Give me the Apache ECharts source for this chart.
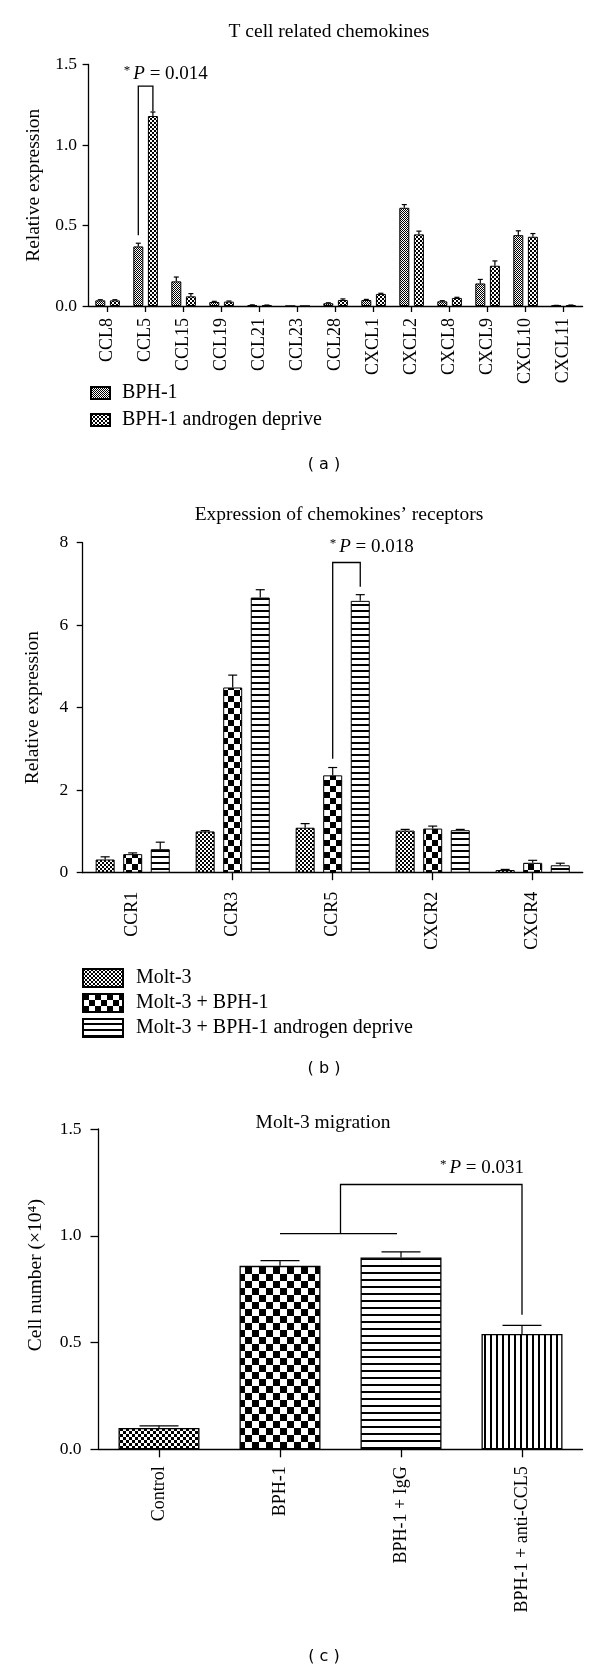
<!DOCTYPE html>
<html>
<head>
<meta charset="utf-8">
<script src="https://cdn.jsdelivr.net/npm/echarts@6/dist/echarts.min.js"></script>
<style>
html,body{margin:0;padding:0;background:#fff}
#chart{width:600px;height:1674px}
</style>
</head>
<body>
<div id="chart"></div>
<script>
// ---------- Panel (a): T cell related chemokines ----------
const chemokines = ['CCL8','CCL5','CCL15','CCL19','CCL21','CCL23','CCL28','CXCL1','CXCL2','CXCL8','CXCL9','CXCL10','CXCL11'];
const bph1 = [0.035, 0.37, 0.153, 0.025, 0.005, 0, 0.017, 0.037, 0.61, 0.029, 0.14, 0.44, 0.003];
const bph1Err = [0.004, 0.02, 0.027, 0.004, 0.002, 0, 0.003, 0.004, 0.02, 0.004, 0.025, 0.027, 0.001];
const bph1Androgen = [0.035, 1.18, 0.06, 0.027, 0.004, 0, 0.037, 0.075, 0.445, 0.05, 0.25, 0.43, 0.005];
const bph1AndrogenErr = [0.004, 0.025, 0.017, 0.004, 0.002, 0, 0.007, 0.004, 0.02, 0.004, 0.03, 0.02, 0.001];
const yTicksA = ['0.0', '0.5', '1.0', '1.5'];

// ---------- Panel (b): Expression of chemokines' receptors ----------
const receptors = ['CCR1','CCR3','CCR5','CXCR2','CXCR4'];
const molt3 = [0.32, 1.0, 1.09, 1.02, 0.065];
const molt3Err = [0.065, 0.02, 0.1, 0.03, 0.015];
const molt3Bph = [0.45, 4.49, 2.36, 1.07, 0.24];
const molt3BphErr = [0.03, 0.3, 0.19, 0.06, 0.06];
const molt3BphAndrogen = [0.57, 6.67, 6.59, 1.03, 0.18];
const molt3BphAndrogenErr = [0.17, 0.19, 0.15, 0.02, 0.05];
const yTicksB = ['0', '2', '4', '6', '8'];

// ---------- Panel (c): Molt-3 migration ----------
const treatments = ['Control','BPH-1','BPH-1 + IgG','BPH-1 + anti-CCL5'];
const cellNumber = [0.10, 0.859, 0.898, 0.54];
const cellNumberErr = [0.01, 0.025, 0.027, 0.04];
const yTicksC = ['0.0', '0.5', '1.0', '1.5'];

// ---------- Significance annotations (data units) ----------
const sigA = { cat: 1, leftY: 0.44, topY: 1.366, rightY: 1.21, p: '0.014' };
const sigB = { cat: 2, leftY: 2.76, topY: 7.52, rightY: 6.93, p: '0.018' };
const sigC = { from: 1, to: 2, target: 3, groupY: 1.01, topY: 1.24, targetY: 0.63, p: '0.031' };

// ---------- styling helpers ----------
const serif = '"Liberation Serif", "Times New Roman", serif';
function canvasOf(w, h, draw) {
  const c = document.createElement('canvas');
  c.width = w; c.height = h;
  const g = c.getContext('2d');
  g.fillStyle = '#fff'; g.fillRect(0, 0, w, h);
  g.fillStyle = '#000';
  draw(g);
  return { image: c, repeat: 'repeat' };
}
const checker = cell => canvasOf(cell * 2, cell * 2, g => { g.fillRect(0, 0, cell, cell); g.fillRect(cell, cell, cell, cell); });
const hLines = (period, thick) => canvasOf(4, period, g => g.fillRect(0, period - thick, 4, thick));
const vLines = (period, thick) => canvasOf(period, 4, g => g.fillRect(period - thick, 0, thick, 4));

const axisLine = { show: true, lineStyle: { color: '#000', width: 1.3 } };
const tick = len => ({ show: true, length: len, lineStyle: { color: '#000', width: 1.3 } });
const bar = (extra) => Object.assign({ borderColor: '#000', borderWidth: 1 }, extra);

const barWA = 10, gapA = 0.46;
const offA = (barWA + barWA * gapA) / 2;
const barWB = 19, gapB = 0.45;
const offB = barWB + barWB * gapB;
const barWC = 81;

function errorSeries(xi, means, errs, offset, capW) {
  return {
    type: 'custom', xAxisIndex: xi, yAxisIndex: xi, silent: true, z: 4,
    data: means.map((m, i) => [i, m, errs[i]]),
    renderItem: (params, api) => {
      const i = api.value(0), m = api.value(1), e = api.value(2);
      if (!(e > 0)) return null;
      const p0 = api.coord([i, m]);
      const p1 = api.coord([i, m + e]);
      const x = p0[0] + offset;
      const st = { stroke: '#000', lineWidth: 1.2 };
      return { type: 'group', children: [
        { type: 'line', shape: { x1: x, y1: p0[1], x2: x, y2: p1[1] }, style: st },
        { type: 'line', shape: { x1: x - capW / 2, y1: p1[1], x2: x + capW / 2, y2: p1[1] }, style: st }
      ]};
    }
  };
}

function pText(p, x, y, align) {
  return {
    type: 'text', x: x, y: y,
    style: {
      text: '{s|*}{i|P} = ' + p,
      fontFamily: serif, fontSize: 19, fill: '#000',
      align: align, verticalAlign: 'middle',
      rich: {
        s: { fontFamily: serif, fontSize: 13, lineHeight: 8, verticalAlign: 'top', padding: [0, 3, 0, 0] },
        i: { fontFamily: serif, fontSize: 19, fontStyle: 'italic' }
      }
    }
  };
}
const bracketStyle = { stroke: '#000', lineWidth: 1.3, fill: null };

const sigSeriesA = {
  type: 'custom', xAxisIndex: 0, yAxisIndex: 0, silent: true, z: 5,
  data: [[sigA.cat, sigA.topY]],
  renderItem: (params, api) => {
    const cx = api.coord([sigA.cat, 0])[0];
    const lx = cx - offA, rx = cx + offA;
    const yL = api.coord([sigA.cat, sigA.leftY])[1];
    const yT = api.coord([sigA.cat, sigA.topY])[1];
    const yR = api.coord([sigA.cat, sigA.rightY])[1];
    return { type: 'group', children: [
      { type: 'polyline', shape: { points: [[lx, yL], [lx, yT], [rx, yT], [rx, yR]] }, style: bracketStyle },
      pText(sigA.p, lx - 14.5, yT - 12, 'left')
    ]};
  }
};
const sigSeriesB = {
  type: 'custom', xAxisIndex: 1, yAxisIndex: 1, silent: true, z: 5,
  data: [[sigB.cat, sigB.topY]],
  renderItem: (params, api) => {
    const cx = api.coord([sigB.cat, 0])[0];
    const lx = cx, rx = cx + offB;
    const yL = api.coord([sigB.cat, sigB.leftY])[1];
    const yT = api.coord([sigB.cat, sigB.topY])[1];
    const yR = api.coord([sigB.cat, sigB.rightY])[1];
    return { type: 'group', children: [
      { type: 'polyline', shape: { points: [[lx, yL], [lx, yT], [rx, yT], [rx, yR]] }, style: bracketStyle },
      pText(sigB.p, lx - 3, yT - 15.5, 'left')
    ]};
  }
};
const sigSeriesC = {
  type: 'custom', xAxisIndex: 2, yAxisIndex: 2, silent: true, z: 5,
  data: [[sigC.target, sigC.topY]],
  renderItem: (params, api) => {
    const x1 = api.coord([sigC.from, 0])[0];
    const x2 = api.coord([sigC.to, 0])[0];
    const x3 = api.coord([sigC.target, 0])[0];
    const mid = (x1 + x2) / 2;
    const yG = api.coord([sigC.from, sigC.groupY])[1];
    const yT = api.coord([sigC.from, sigC.topY])[1];
    const yX = api.coord([sigC.target, sigC.targetY])[1];
    return { type: 'group', children: [
      { type: 'line', shape: { x1: x1, y1: yG, x2: x2 - 4, y2: yG }, style: bracketStyle },
      { type: 'polyline', shape: { points: [[mid, yG], [mid, yT], [x3, yT], [x3, yX]] }, style: bracketStyle },
      pText(sigC.p, x3 + 2, yT - 17, 'right')
    ]};
  }
};

const labelFont = { fontFamily: serif, color: '#000' };
const yFmt = ticks => (v, i) => ticks[i];

const patA1 = checker(1), patA2 = checker(2);
const patB1 = checker(2), patB2 = checker(6), patB3 = hLines(6, 2);
const patC = [checker(3), checker(7), hLines(7, 2), vLines(6, 2)];

const titleStyle = { fontFamily: serif, fontSize: 19.5, fontWeight: 'normal', color: '#000' };
const panelStyle = { fontFamily: '"DejaVu Sans", sans-serif', fontSize: 16, fontWeight: 'normal', color: '#000' };

const option = {
  animation: false,
  backgroundColor: '#fff',
  title: [
    { text: 'T cell related chemokines', left: 329, top: 22, textAlign: 'center', padding: 0, textStyle: titleStyle },
    { text: 'Expression of chemokines\u2019 receptors', left: 339, top: 505, textAlign: 'center', padding: 0, textStyle: titleStyle },
    { text: 'Molt-3 migration', left: 323, top: 1113, textAlign: 'center', padding: 0, textStyle: titleStyle },
    { text: '( a )', left: 324, top: 457, textAlign: 'center', padding: 0, textStyle: panelStyle },
    { text: '( b )', left: 324, top: 1061, textAlign: 'center', padding: 0, textStyle: panelStyle },
    { text: '( c )', left: 324, top: 1649, textAlign: 'center', padding: 0, textStyle: panelStyle }
  ],
  legend: [
    { data: ['BPH-1', 'BPH-1 androgen deprive'], orient: 'vertical', left: 90, top: 383, padding: 0,
      itemWidth: 19, itemHeight: 12, itemGap: 7, icon: 'rect', selectedMode: false,
      textStyle: { fontFamily: serif, fontSize: 20, color: '#000', padding: [0, 0, 0, 7] } },
    { data: ['Molt-3', 'Molt-3 + BPH-1', 'Molt-3 + BPH-1 androgen deprive'], orient: 'vertical', left: 82, top: 968, padding: 0,
      itemWidth: 40, itemHeight: 18, itemGap: 5, icon: 'rect', selectedMode: false,
      textStyle: { fontFamily: serif, fontSize: 20, color: '#000', padding: [0, 0, 0, 8] } }
  ],
  grid: [
    { left: 88.6, top: 64.5, width: 494, height: 241.5, outerBoundsMode: 'none' },
    { left: 82.7, top: 542.7, width: 500, height: 330, outerBoundsMode: 'none' },
    { left: 98.5, top: 1129, width: 484, height: 320.3, outerBoundsMode: 'none' }
  ],
  xAxis: [
    { gridIndex: 0, type: 'category', data: chemokines, axisLine: axisLine,
      axisTick: Object.assign(tick(6), { alignWithLabel: true }),
      axisLabel: Object.assign({ interval: 0, rotate: 90, margin: 12, fontSize: 18 }, labelFont) },
    { gridIndex: 1, type: 'category', data: receptors, axisLine: axisLine,
      axisTick: Object.assign(tick(7.5), { alignWithLabel: true, interval: (i) => i !== 0 }),
      axisLabel: Object.assign({ interval: 0, rotate: 90, margin: 19, fontSize: 18 }, labelFont) },
    { gridIndex: 2, type: 'category', data: treatments, axisLine: axisLine,
      axisTick: Object.assign(tick(8), { alignWithLabel: true }),
      axisLabel: Object.assign({ interval: 0, rotate: 90, margin: 17, fontSize: 18 }, labelFont) }
  ],
  yAxis: [
    { gridIndex: 0, type: 'value', min: +yTicksA[0], max: +yTicksA[yTicksA.length - 1], interval: yTicksA[1] - yTicksA[0],
      name: 'Relative expression', nameLocation: 'middle', nameGap: 45,
      nameTextStyle: { fontFamily: serif, fontSize: 19.5, color: '#000' },
      axisLine: axisLine, axisTick: tick(6), splitLine: { show: false },
      axisLabel: Object.assign({ margin: 11.5, fontSize: 17.5, formatter: yFmt(yTicksA) }, labelFont) },
    { gridIndex: 1, type: 'value', min: +yTicksB[0], max: +yTicksB[yTicksB.length - 1], interval: yTicksB[1] - yTicksB[0],
      name: 'Relative expression', nameLocation: 'middle', nameGap: 40,
      nameTextStyle: { fontFamily: serif, fontSize: 19.5, color: '#000' },
      axisLine: axisLine, axisTick: tick(6), splitLine: { show: false },
      axisLabel: Object.assign({ margin: 14.5, fontSize: 17.5, formatter: yFmt(yTicksB) }, labelFont) },
    { gridIndex: 2, type: 'value', min: +yTicksC[0], max: +yTicksC[yTicksC.length - 1], interval: yTicksC[1] - yTicksC[0],
      name: 'Cell number (\u00d710\u2074)', nameLocation: 'middle', nameGap: 53,
      nameTextStyle: { fontFamily: serif, fontSize: 19.5, color: '#000', padding: [0, 0, 0, 28] },
      axisLine: axisLine, axisTick: tick(8), splitLine: { show: false },
      axisLabel: Object.assign({ margin: 17, fontSize: 17.5, formatter: yFmt(yTicksC) }, labelFont) }
  ],
  series: [
    { type: 'bar', name: 'BPH-1', xAxisIndex: 0, yAxisIndex: 0, data: bph1, barWidth: barWA, barGap: (gapA * 100) + '%',
      itemStyle: bar({ color: patA1 }) },
    { type: 'bar', name: 'BPH-1 androgen deprive', xAxisIndex: 0, yAxisIndex: 0, data: bph1Androgen, barWidth: barWA, barGap: (gapA * 100) + '%',
      itemStyle: bar({ color: patA2 }) },
    errorSeries(0, bph1, bph1Err, -offA, 5),
    errorSeries(0, bph1Androgen, bph1AndrogenErr, offA, 5),
    sigSeriesA,

    { type: 'bar', name: 'Molt-3', xAxisIndex: 1, yAxisIndex: 1, data: molt3, barWidth: barWB, barGap: (gapB * 100) + '%',
      itemStyle: bar({ color: patB1 }) },
    { type: 'bar', name: 'Molt-3 + BPH-1', xAxisIndex: 1, yAxisIndex: 1, data: molt3Bph, barWidth: barWB, barGap: (gapB * 100) + '%',
      itemStyle: bar({ color: patB2 }) },
    { type: 'bar', name: 'Molt-3 + BPH-1 androgen deprive', xAxisIndex: 1, yAxisIndex: 1, data: molt3BphAndrogen, barWidth: barWB, barGap: (gapB * 100) + '%',
      itemStyle: bar({ color: patB3 }) },
    errorSeries(1, molt3, molt3Err, -offB, 9),
    errorSeries(1, molt3Bph, molt3BphErr, 0, 9),
    errorSeries(1, molt3BphAndrogen, molt3BphAndrogenErr, offB, 9),
    sigSeriesB,

    { type: 'bar', name: 'Molt-3 migration', xAxisIndex: 2, yAxisIndex: 2, barWidth: barWC,
      data: cellNumber.map((v, i) => ({ value: v, itemStyle: { color: patC[i] } })),
      itemStyle: bar({ borderWidth: 1.3 }) },
    errorSeries(2, cellNumber, cellNumberErr, 0, 39),
    sigSeriesC
  ]
};

const chart = echarts.init(document.getElementById('chart'), null, { renderer: 'canvas' });
chart.setOption(option);
</script>
</body>
</html>
